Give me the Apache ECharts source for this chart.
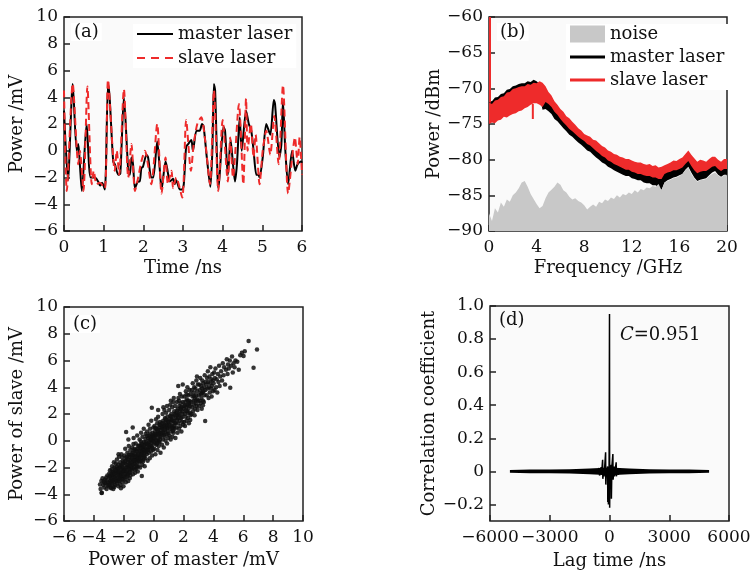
<!DOCTYPE html>
<html>
<head>
<meta charset="utf-8">
<title>master / slave laser chaos</title>
<script src="https://cdn.jsdelivr.net/npm/echarts@6.0.0/dist/echarts.min.js"></script>
<style>
  html, body { margin: 0; padding: 0; background: #fff; }
  #main { width: 754px; height: 576px; }
</style>
</head>
<body>
<div id="main"></div>
<script>
// (a) time traces, [time ns, power mV]
var masterTrace = [[0,3.0],[0.10,-2.2],[0.22,5.0],[0.32,0.0],[0.36,0.5],[0.40,-1.0],[0.45,-3.0],[0.57,2.0],[0.67,-2.0],[0.78,-2.0],[0.86,-2.3],[0.91,-2.6],[0.96,-2.4],[1.03,-2.9],[1.11,5.0],[1.15,4.0],[1.24,-0.8],[1.28,-1.0],[1.37,-1.8],[1.42,-1.7],[1.51,4.0],[1.62,-1.5],[1.66,-1.8],[1.70,-0.5],[1.74,-1.0],[1.79,-2.8],[1.87,-2.3],[1.91,-2.3],[1.95,-1.3],[1.99,-1.2],[2.08,-0.3],[2.12,-0.5],[2.20,-2.0],[2.25,-2.0],[2.35,0.7],[2.41,-1.2],[2.46,-2.9],[2.56,-0.8],[2.60,-1.3],[2.67,-2.3],[2.75,-2.1],[2.79,-2.5],[2.83,-2.2],[2.92,-2.9],[2.98,-2.9],[3.02,-2.5],[3.08,0.3],[3.13,0.5],[3.21,0.8],[3.25,0.0],[3.34,1.5],[3.42,1.5],[3.48,2.0],[3.52,1.8],[3.60,-0.5],[3.69,-2.7],[3.74,0.0],[3.78,5.0],[3.81,4.5],[3.89,-2.8],[3.92,-2.0],[4.02,1.8],[4.06,1.5],[4.13,-1.8],[4.20,0.8],[4.26,-1.0],[4.31,-2.3],[4.36,-1.0],[4.43,2.5],[4.48,0.0],[4.59,3.0],[4.66,2.0],[4.72,1.5],[4.78,0.0],[4.85,-1.8],[4.90,-1.8],[4.93,-2.0],[5.01,-0.5],[5.10,2.0],[5.20,1.2],[5.29,3.8],[5.32,3.5],[5.43,-0.5],[5.48,0.5],[5.52,3.7],[5.58,0.0],[5.65,-2.5],[5.75,0.0],[5.83,-1.5],[5.89,-1.0],[5.98,-0.8],[6.0,-0.9]];
var slaveTrace = [[0,4.5],[0.07,-3.0],[0.22,5.0],[0.36,-1.0],[0.40,0.0],[0.49,-3.0],[0.59,4.8],[0.70,-2.5],[0.75,-1.5],[0.82,-2.5],[0.90,-2.4],[1.03,-2.8],[1.11,5.3],[1.28,-1.5],[1.33,0.0],[1.39,-1.8],[1.51,4.6],[1.62,-2.0],[1.70,0.5],[1.79,-3.0],[1.87,-2.0],[1.95,-0.8],[2.04,0.0],[2.20,-2.5],[2.35,2.0],[2.46,-3.2],[2.56,-0.5],[2.62,-2.5],[2.71,-1.5],[2.75,-2.8],[2.83,-2.0],[2.98,-3.5],[3.08,2.3],[3.20,-1.5],[3.27,0.5],[3.36,2.0],[3.46,2.5],[3.55,1.0],[3.68,-2.5],[3.78,4.5],[3.89,-3.0],[4.00,2.3],[4.13,-2.3],[4.19,1.0],[4.26,-2.0],[4.41,3.5],[4.52,-2.5],[4.59,3.9],[4.63,0.0],[4.71,2.0],[4.78,-0.5],[4.83,1.2],[4.93,-2.5],[5.01,0.0],[5.10,1.5],[5.20,-0.3],[5.30,2.6],[5.41,-1.0],[5.52,4.9],[5.65,-3.2],[5.77,0.0],[5.82,1.0],[5.89,-1.0],[5.94,1.0],[6.0,-1.8]];

// (b) spectra, dBm sampled every 0.25 GHz
var freqGHz = [0,0.25,0.5,0.75,1,1.25,1.5,1.75,2,2.25,2.5,2.75,3,3.25,3.5,3.75,4,4.25,4.5,4.75,5,5.25,5.5,5.75,6,6.25,6.5,6.75,7,7.25,7.5,7.75,8,8.25,8.5,8.75,9,9.25,9.5,9.75,10,10.25,10.5,10.75,11,11.25,11.5,11.75,12,12.25,12.5,12.75,13,13.25,13.5,13.75,14,14.25,14.5,14.75,15,15.25,15.5,15.75,16,16.25,16.5,16.75,17,17.25,17.5,17.75,18,18.25,18.5,18.75,19,19.25,19.5,19.75,20];
var noiseLevel = [-87.5,-88.6,-86.8,-87.4,-86.0,-86.6,-85.6,-85.9,-85.0,-84.6,-84.0,-83.2,-83.0,-83.8,-84.8,-85.5,-86.2,-86.8,-86.5,-85.4,-84.6,-84.2,-83.8,-83.2,-83.5,-84.3,-84.6,-85.2,-85.6,-85.4,-85.8,-86.0,-86.4,-87.0,-86.6,-86.3,-86.6,-85.9,-86.1,-85.6,-85.8,-85.3,-85.5,-85.0,-85.3,-84.8,-85.0,-84.6,-84.8,-84.3,-84.6,-84.1,-84.3,-83.9,-84.0,-83.7,-83.8,-83.4,-84.3,-83.2,-83.0,-82.8,-82.6,-82.5,-82.3,-82.0,-81.5,-81.1,-82.0,-82.6,-83.1,-82.9,-82.8,-82.7,-82.3,-82.0,-81.8,-82.2,-82.5,-82.2,-82.2];
var masterUpper = [-71.7,-71.8,-71.3,-71.2,-70.8,-70.7,-70.2,-70.1,-69.7,-69.6,-69.4,-69.3,-69.3,-69.0,-69.1,-68.8,-69.0,-69.4,-70.0,-71.4,-71.7,-72.1,-72.8,-73.2,-73.8,-74.3,-74.7,-75.2,-75.5,-75.9,-76.3,-76.6,-76.9,-77.3,-77.5,-77.9,-78.3,-78.6,-79.0,-79.2,-79.6,-79.8,-80.1,-80.3,-80.5,-80.7,-80.9,-80.9,-81.2,-81.3,-81.5,-81.5,-81.7,-81.8,-81.8,-82.0,-82.0,-82.2,-82.2,-81.5,-81.3,-81.2,-81.0,-81.0,-80.8,-80.6,-80.1,-79.7,-80.4,-81.0,-81.4,-81.2,-81.1,-81.1,-80.8,-80.5,-80.4,-80.8,-81.1,-80.8,-80.8];
var masterLower = [-73.5,-73.6,-73.2,-73.0,-72.7,-72.5,-72.2,-72.0,-71.8,-71.6,-71.5,-71.3,-71.2,-71.0,-71.0,-70.8,-70.9,-71.2,-73.0,-72.9,-73.2,-73.6,-74.3,-74.6,-75.1,-75.6,-76.0,-76.5,-76.8,-77.2,-77.6,-77.9,-78.3,-78.7,-78.9,-79.3,-79.7,-80.0,-80.4,-80.6,-81.0,-81.2,-81.5,-81.7,-81.9,-82.1,-82.3,-82.3,-82.6,-82.7,-82.9,-82.9,-83.2,-83.3,-83.3,-83.6,-83.6,-83.9,-84.2,-83.2,-82.9,-82.7,-82.5,-82.4,-82.2,-82.0,-81.4,-81.0,-81.8,-82.5,-83.0,-82.8,-82.7,-82.6,-82.2,-81.8,-81.6,-82.1,-82.4,-82.1,-82.1];
var slaveUpper = [-72.0,-72.2,-71.7,-71.6,-71.2,-71.1,-70.6,-70.5,-70.1,-70.0,-69.8,-69.7,-69.7,-69.4,-69.5,-69.2,-69.3,-69.0,-69.2,-69.7,-70.5,-71.0,-71.8,-72.3,-72.9,-73.3,-73.9,-74.2,-74.7,-75.1,-75.6,-75.9,-76.4,-76.6,-76.8,-77.2,-77.3,-77.7,-78.1,-78.3,-78.7,-78.9,-79.2,-79.3,-79.6,-79.7,-79.9,-79.9,-80.1,-80.3,-80.4,-80.4,-80.6,-80.7,-80.6,-80.9,-80.8,-81.1,-81.0,-80.8,-80.6,-80.4,-80.1,-80.2,-79.9,-79.7,-79.2,-78.7,-79.3,-79.8,-80.3,-80.0,-80.1,-80.3,-79.9,-79.6,-79.6,-80.0,-80.3,-79.9,-79.9];
var slaveLower = [-75.0,-74.8,-74.9,-74.5,-74.4,-74.0,-74.1,-73.8,-73.6,-73.5,-73.2,-73.1,-72.8,-72.6,-72.3,-72.1,-72.1,-72.3,-72.6,-71.9,-72.2,-72.6,-73.3,-73.7,-74.3,-74.8,-75.2,-75.7,-76.0,-76.4,-76.8,-77.1,-77.4,-77.8,-78.0,-78.4,-78.8,-79.1,-79.5,-79.7,-80.1,-80.3,-80.6,-80.8,-81.0,-81.2,-81.4,-81.4,-81.7,-81.8,-82.0,-82.0,-82.2,-82.3,-82.3,-82.5,-82.5,-82.7,-82.7,-82.0,-81.8,-81.7,-81.5,-81.5,-81.3,-81.1,-80.6,-80.2,-80.9,-81.5,-81.9,-81.7,-81.6,-81.6,-81.3,-81.0,-80.9,-81.3,-81.6,-81.3,-81.3];
// narrow spikes of the slave trace: [GHz, top dBm, bottom dBm]
var slaveSpikes = [[0,-60,-72],[3.6,-72.2,-74.3]];

// (c) slave vs master, [master mV, slave mV]
var scatterPts = [
[-3.55,-3.6],[-3.48,-3.9],[-3.5,-3.0],[-3.42,-2.8],[-3.38,-3.3],[-3.3,-3.5],[-3.25,-2.9],[-3.2,-3.2],[-3.15,-3.6],[-3.1,-2.6],[-3.05,-3.1],[-3.02,-3.4],[-3.35,-3.05],[-3.12,-2.95],[-3.59,-3.27],[-3.47,-3.89],
[-2.98,-2.7],[-2.95,-3.3],[-2.92,-2.2],[-2.9,-3.0],[-2.88,-3.5],[-2.85,-2.5],[-2.82,-2.9],[-2.8,-3.2],[-2.78,-1.9],[-2.75,-2.6],[-2.72,-3.4],[-2.7,-2.3],[-2.68,-2.95],[-2.65,-3.1],[-2.62,-2.0],[-2.6,-2.7],[-2.58,-3.3],[-2.55,-2.4],[-2.53,-1.7],[-2.52,-3.0],[-2.9,-2.65],[-2.76,-2.35],[-2.66,-1.6],[-2.84,-3.55],[-2.57,-2.15],[-2.7,-3.6],
[-2.48,-2.6],[-2.46,-1.4],[-2.45,-3.2],[-2.42,-2.1],[-2.4,-2.9],[-2.38,-1.8],[-2.36,-3.4],[-2.34,-2.4],[-2.32,-1.2],[-2.3,-2.7],[-2.28,-3.0],[-2.26,-2.0],[-2.24,-1.6],[-2.22,-3.3],[-2.2,-2.5],[-2.18,-2.2],[-2.16,-1.0],[-2.14,-2.8],[-2.12,-1.9],[-2.1,-3.1],[-2.08,-2.35],[-2.06,-1.5],[-2.04,-2.65],[-2.02,-3.4],[-2.44,-2.3],[-2.35,-1.0],[-2.27,-2.55],[-2.19,-3.55],[-2.11,-1.25],[-2.05,-2.05],
[-1.98,-2.3],[-1.96,-1.1],[-1.94,-2.9],[-1.92,-1.7],[-1.9,-0.6],[-1.88,-2.5],[-1.86,-3.1],[-1.84,0.65],[-1.82,-2.0],[-1.8,-1.4],[-1.78,-2.7],[-1.76,-0.9],[-1.74,-2.2],[-1.72,-1.6],[-1.7,-3.0],[-1.68,-1.9],[-1.66,-0.4],[-1.64,-2.4],[-1.62,-1.2],[-1.6,-2.8],[-1.58,-1.75],[-1.56,-0.7],[-1.54,-2.1],[-1.52,-1.45],[-1.95,-2.05],[-1.85,-1.25],[-1.75,-2.45],[-1.65,-1.05],[-1.55,-2.6],[-1.69,0.1],
[-1.48,-1.3],[-1.46,-2.2],[-1.44,-0.5],[-1.42,-1.8],[-1.4,-0.9],[-1.38,-2.5],[-1.36,-1.5],[-1.34,0.2],[-1.32,-1.1],[-1.3,-2.0],[-1.28,-0.6],[-1.26,-1.7],[-1.24,-2.4],[-1.22,-1.0],[-1.2,-0.2],[-1.18,-1.4],[-1.16,-2.1],[-1.14,-0.8],[-1.12,-1.6],[-1.1,0.4],[-1.08,-1.2],[-1.06,-2.3],[-1.04,-0.4],[-1.02,-1.9],[-1.45,-1.05],[-1.35,-0.25],[-1.25,-1.25],[-1.15,-1.85],[-1.05,-0.95],[-1.4,1.0],
[-0.98,-0.7],[-0.96,-1.6],[-0.94,0.1],[-0.92,-1.2],[-0.9,-2.0],[-0.88,-0.4],[-0.86,-1.0],[-0.84,0.6],[-0.82,-1.5],[-0.8,-0.2],[-0.79,-2.64],[-0.78,-0.8],[-0.76,-1.8],[-0.74,0.3],[-0.72,-1.1],[-0.7,-0.5],[-0.68,-1.4],[-0.66,0.9],[-0.64,-0.1],[-0.62,-0.9],[-0.6,-1.9],[-0.58,-0.3],[-0.56,-1.3],[-0.54,0.5],[-0.52,-0.6],[-0.95,-1.35],[-0.85,-0.05],[-0.75,-0.55],[-0.65,-1.25],[-0.55,0.15],
[-0.48,-0.2],[-0.46,-1.0],[-0.44,0.7],[-0.42,-0.6],[-0.4,-1.5],[-0.38,0.2],[-0.36,-0.3],[-0.34,1.2],[-0.32,-0.9],[-0.3,0.4],[-0.28,-0.1],[-0.26,-1.3],[-0.24,0.9],[-0.22,-0.5],[-0.2,0.1],[-0.18,-0.8],[-0.16,1.5],[-0.14,0.3],[-0.12,2.47],[-0.12,-0.4],[-0.1,-1.1],[-0.08,0.6],[-0.06,0.0],[-0.04,-0.7],[-0.02,1.0],[-0.45,0.35],[-0.35,-0.65],[-0.25,0.55],[-0.15,-0.15],[-0.05,0.35],
[0.02,0.2],[0.04,-0.6],[0.06,1.1],[0.08,-0.2],[0.1,0.7],[0.12,-1.0],[0.14,0.4],[0.16,1.6],[0.18,-0.3],[0.2,0.9],[0.22,0.0],[0.24,1.3],[0.26,-0.7],[0.28,0.5],[0.3,1.8],[0.32,0.2],[0.34,-0.4],[0.36,1.0],[0.38,0.6],[0.4,-0.1],[0.42,1.4],[0.44,0.3],[0.46,-0.9],[0.48,0.8],[0.15,0.05],[0.25,0.75],[0.35,-0.05],[0.45,1.15],[0.05,0.5],[0.3,2.3],
[0.52,0.4],[0.54,1.3],[0.56,-0.3],[0.58,0.9],[0.6,2.0],[0.62,0.1],[0.64,1.5],[0.66,0.6],[0.68,-0.5],[0.7,1.1],[0.72,2.3],[0.74,0.3],[0.76,1.7],[0.78,0.8],[0.8,0.0],[0.82,1.3],[0.84,2.1],[0.86,0.5],[0.88,1.0],[0.9,-0.2],[0.92,1.8],[0.94,0.7],[0.96,1.4],[0.98,0.2],[0.6,1.05],[0.7,0.45],[0.8,1.6],[0.9,2.6],[0.65,2.5],[0.95,0.95],
[1.02,1.2],[1.04,2.3],[1.06,0.4],[1.08,1.6],[1.1,0.9],[1.12,2.7],[1.14,0.1],[1.16,1.4],[1.18,2.0],[1.2,0.7],[1.22,1.1],[1.24,2.5],[1.26,0.3],[1.28,1.8],[1.3,1.0],[1.32,2.9],[1.34,0.6],[1.36,1.5],[1.38,2.2],[1.4,0.9],[1.42,1.3],[1.44,2.6],[1.46,0.2],[1.48,1.7],[1.1,1.85],[1.2,1.55],[1.3,0.75],[1.4,2.0],[1.15,3.0],[1.35,3.2],
[1.52,2.1],[1.54,1.0],[1.56,2.9],[1.58,1.6],[1.6,0.6],[1.62,2.4],[1.64,1.3],[1.66,3.2],[1.68,1.9],[1.7,0.9],[1.72,2.6],[1.74,1.5],[1.76,3.5],[1.78,2.2],[1.8,1.1],[1.82,2.8],[1.84,1.7],[1.86,0.7],[1.88,2.5],[1.9,3.3],[1.92,1.4],[1.94,2.0],[1.96,2.9],[1.98,1.2],[1.6,1.95],[1.7,3.0],[1.8,2.35],[1.9,1.75],[1.65,4.1],[1.95,4.2],
[2.02,2.4],[2.04,1.4],[2.06,3.3],[2.08,2.0],[2.1,1.1],[2.12,2.9],[2.14,1.8],[2.16,3.7],[2.18,2.5],[2.2,1.5],[2.22,3.1],[2.24,2.2],[2.26,4.0],[2.28,2.7],[2.3,1.7],[2.32,3.4],[2.34,2.4],[2.36,1.3],[2.38,3.0],[2.4,3.8],[2.42,2.1],[2.44,2.6],[2.46,3.5],[2.48,1.9],[2.1,2.65],[2.2,3.45],[2.3,2.05],[2.4,2.85],[2.45,1.55],
[2.52,2.9],[2.54,2.0],[2.56,3.8],[2.58,2.5],[2.6,3.3],[2.62,4.3],[2.64,2.2],[2.66,3.0],[2.68,3.6],[2.7,2.7],[2.72,4.0],[2.74,1.9],[2.76,3.2],[2.78,2.4],[2.8,3.9],[2.82,2.8],[2.84,3.4],[2.86,4.5],[2.88,2.6],[2.9,3.1],[2.92,3.7],[2.94,2.3],[2.96,4.2],[2.98,3.0],[2.7,3.35],[2.8,3.0],[2.9,4.8],
[3.02,3.4],[3.04,2.6],[3.06,4.2],[3.08,3.0],[3.1,3.8],[3.12,4.7],[3.14,2.8],[3.16,3.5],[3.18,4.1],[3.2,3.2],[3.22,2.4],[3.24,3.9],[3.26,4.5],[3.28,3.6],[3.3,3.0],[3.32,4.3],[3.34,3.7],[3.36,2.9],[3.38,4.0],[3.4,3.4],[3.42,4.9],[3.45,1.47],[3.46,3.8],[3.48,4.4],[3.2,3.55],[3.3,2.65],
[3.52,4.2],[3.55,3.4],[3.58,4.7],[3.6,3.9],[3.63,5.2],[3.66,4.4],[3.68,3.2],[3.7,4.0],[3.73,4.8],[3.76,3.6],[3.78,4.3],[3.8,5.5],[3.83,3.9],[3.86,4.6],[3.88,3.3],[3.9,4.1],[3.93,5.0],[3.96,4.5],[3.98,3.7],
[4.02,4.3],[4.05,5.1],[4.08,3.8],[4.1,4.7],[4.14,5.4],[4.18,4.0],[4.22,4.6],[4.26,3.6],[4.3,5.0],[4.34,4.4],[4.38,5.6],[4.42,4.1],[4.46,4.8],
[4.52,5.2],[4.58,4.5],[4.63,5.8],[4.68,4.9],[4.72,5.5],[4.78,4.2],[4.84,5.3],[4.9,6.1],[4.95,5.0],[4.98,5.7],
[5.03,5.4],[5.1,6.0],[5.13,3.96],[5.18,5.6],[5.25,6.3],[5.3,5.1],[5.35,5.8],[5.42,5.5],[5.48,6.0],
[5.6,5.9],[5.8,6.4],[5.91,6.58],[6.02,6.33],[6.1,6.7],[6.36,7.46],[6.69,5.46],[6.92,6.83],[5.7,5.3],
[-3.28,-3.15],[-3.18,-2.75],[-3.08,-3.3],[-2.97,-2.45],[-2.93,-3.15],[-2.87,-2.8],[-2.81,-2.15],[-2.77,-3.05],[-2.73,-2.5],[-2.67,-2.75],[-2.63,-3.45],[-2.59,-2.45],[-2.56,-2.85],[-2.51,-2.25],[-2.49,-1.95],[-2.43,-2.75],[-2.39,-2.45],[-2.37,-3.05],[-2.33,-2.05],[-2.29,-2.3],[-2.25,-2.85],[-2.21,-1.85],[-2.17,-2.65],[-2.13,-2.35],[-2.09,-1.75],[-2.07,-2.9],[-2.03,-2.2],[-2.01,-1.6],[-1.97,-2.6],[-1.93,-2.25],[-1.89,-1.5],[-1.87,-2.75],[-1.83,-1.8],[-1.79,-2.3],[-1.77,-1.2],[-1.73,-1.95],[-1.71,-2.55],[-1.67,-1.4],[-1.63,-2.1],[-1.61,-1.65],[-1.57,-2.35],[-1.53,-1.0],[-1.51,-1.9],[-1.47,-1.6],[-1.43,-2.05],[-1.41,-1.2],[-1.37,-1.75],[-1.33,-0.75],[-1.31,-1.45],[-1.27,-2.15],[-1.23,-1.5],[-1.21,-0.7],[-1.17,-1.15],[-1.13,-1.95],[-1.09,-1.45],[-1.07,-0.6],[-1.03,-1.3],[-0.99,-1.0],[-0.97,-0.35],[-0.93,-1.5],[-0.89,-0.75],[-0.87,-1.3],[-0.83,-0.5],[-0.81,-1.05],[-0.77,-0.3],[-0.73,-0.85],[-0.71,-1.55],[-0.67,-0.7],[-0.63,-0.4],[-0.61,-1.1],[-0.57,-0.75],[-0.53,-0.1],[-0.49,-0.85],[-0.43,-0.3],[-0.39,-0.7],[-0.33,0.0],[-0.29,-0.45],[-0.23,0.25],[-0.19,-0.35],[-0.13,0.05],[-0.09,-0.55],[-0.03,0.4],[0.01,-0.1],[0.07,0.25],[0.11,0.95],[0.17,0.45],[0.23,-0.2],[0.29,0.85],[0.33,0.5],[0.39,1.2],[0.43,0.1],[0.49,0.55],[0.55,1.0],[0.61,0.6],[0.67,1.3],[0.73,0.85],[0.79,1.15],[0.85,1.55],[0.91,1.1],[0.97,0.55],[1.03,1.45],[1.09,1.15],[1.17,1.8],[1.23,0.95],[1.29,1.5],[1.37,1.15],[1.43,1.9],[1.49,1.35],[1.57,2.25],[1.63,1.7],[1.73,2.0],[1.83,2.5],[1.93,2.2],[2.05,2.6],[2.15,2.25],[2.27,3.0],[2.37,2.7]
];

// (d) cross-correlation, lag ns
var corrLag = [-5000,-4000,-3000,-2000,-1000,-500,-300,300,500,1000,2000,3000,4000,5000];
var corrUpper = [0.008,0.011,0.012,0.013,0.017,0.02,0.022,0.022,0.02,0.017,0.013,0.012,0.011,0.008];
var corrLower = [-0.008,-0.011,-0.012,-0.013,-0.017,-0.02,-0.022,-0.022,-0.02,-0.017,-0.013,-0.012,-0.011,-0.008];
var corrSpikes = [[-600,0],[-520,0.02],[-500,-0.025],[-420,0.025],[-400,-0.02],[-345,0.07],[-335,-0.045],[-280,0.02],[-270,-0.03],[-195,0.115],[-185,-0.08],[-150,0.02],[-140,-0.03],[-95,0.03],[-85,-0.185],[-70,0.02],[-55,-0.2],[-20,0.03],[0,0.951],[8,-0.22],[25,0.03],[45,-0.04],[85,0.04],[95,-0.165],[120,0.03],[170,0.105],[180,-0.05],[240,0.03],[250,-0.03],[335,0.055],[345,-0.03],[420,0.02],[440,-0.02],[520,0.015],[600,0]];

var font = 'DejaVu Serif';
var ink = '#111';
var red = '#ee2b2b';
var fs = 18;
var ls = 17;

function minus(v) { return String(v).replace('-', '\u2212'); }

function axis(gi, min, max, interval, name, gap, isY) {
  return {
    type: 'value', gridIndex: gi, min: min, max: max, interval: interval,
    name: name, nameLocation: 'middle', nameGap: gap,
    nameTextStyle: { fontFamily: font, fontSize: fs, color: ink },
    axisLine: { show: false, onZero: false },
    axisTick: { show: true, inside: true, length: 6, lineStyle: { color: '#222', width: 1.5 } },
    axisLabel: { fontFamily: font, fontSize: ls, color: ink, margin: isY ? 6 : 8, formatter: minus, hideOverlap: false },
    splitLine: { show: false }
  };
}

// filled band between two edges, drawn through the axes
function band(name, xs, up, lo, color, gi) {
  return {
    type: 'custom', name: name, xAxisIndex: gi, yAxisIndex: gi, clip: true,
    itemStyle: { color: color },
    data: [[xs[0], up[0]]],
    renderItem: function (params, api) {
      var pts = [];
      for (var i = 0; i < xs.length; i++) pts.push(api.coord([xs[i], up[i]]));
      for (var j = xs.length - 1; j >= 0; j--) pts.push(api.coord([xs[j], lo[j]]));
      return { type: 'polygon', shape: { points: pts }, style: { fill: color } };
    }
  };
}

function zip(xs, ys) { return xs.map(function (x, i) { return [x, ys[i]]; }); }

// -0.3 .. 1.0 with ticks on the even tenths: let the axis pick 0.2 itself
var corrYAxis = axis(3, -0.3, 1.0, null, 'Correlation coefficient', 50, true);
delete corrYAxis.interval;
corrYAxis.splitNumber = 6;
corrYAxis.axisLabel.showMinLabel = false;
corrYAxis.axisLabel.formatter = function (v) {
  if (Math.abs(v + 0.3) < 1e-6) return '';
  return Math.abs(v) < 1e-9 ? '0' : minus(v.toFixed(1));
};

var gridStyle = { show: true, borderColor: '#222', borderWidth: 1.5, backgroundColor: '#fafafa', outerBoundsMode: 'none' };
var solidIcon = 'path://M0,0H36V2H0Z';
var dashIcon = 'path://M0,0H8V2H0Z M14,0H22V2H14Z M28,0H36V2H28Z';
var lineIcon = 'path://M0,0H35V3H0Z';
var txt = { fontFamily: font, fontSize: fs, color: ink, fontWeight: 'normal' };
var legendText = { fontFamily: font, fontSize: fs, color: ink, lineHeight: 20 };

var chart = echarts.init(document.getElementById('main'), null, { renderer: 'canvas' });
chart.setOption({
  animation: false,
  backgroundColor: '#fff',
  grid: [
    Object.assign({ left: 64, top: 17, width: 238, height: 214 }, gridStyle),
    Object.assign({ left: 489, top: 17, width: 238, height: 214 }, gridStyle),
    Object.assign({ left: 64, top: 307, width: 239, height: 214 }, gridStyle),
    Object.assign({ left: 490, top: 306, width: 239, height: 215 }, gridStyle)
  ],
  xAxis: [
    axis(0, 0, 6, 1, 'Time /ns', 28, false),
    axis(1, 0, 20, 4, 'Frequency /GHz', 28, false),
    axis(2, -6, 10, 2, 'Power of master /mV', 30, false),
    axis(3, -6000, 6000, 3000, 'Lag time /ns', 31, false)
  ],
  yAxis: [
    axis(0, -6, 10, 2, 'Power /mV', 38, true),
    axis(1, -90, -60, 5, 'Power /dBm', 44, true),
    axis(2, -6, 10, 2, 'Power of slave /mV', 38, true),
    corrYAxis
  ],
  title: [
    { text: '(a)', left: 71, top: 23, padding: [0, 3], backgroundColor: '#fff', textStyle: txt },
    { text: '(b)', left: 497, top: 23, padding: [0, 3], backgroundColor: '#fff', textStyle: txt },
    { text: '(c)', left: 70, top: 315, padding: [0, 3], backgroundColor: '#fff', textStyle: txt },
    { text: '(d)', left: 496, top: 311, padding: [0, 3], textStyle: txt },
    { text: '{i|C}=0.951', left: 620, top: 326, padding: 0,
      textStyle: Object.assign({ rich: { i: { fontFamily: font, fontSize: fs, color: ink, fontStyle: 'italic' } } }, txt) }
  ],
  legend: [
    { orient: 'vertical', left: 133, top: 24, padding: [0, 4], backgroundColor: '#fff',
      itemWidth: 36, itemHeight: 14, itemGap: 4, selectedMode: false, textStyle: legendText,
      data: [{ name: 'master laser', icon: solidIcon }, { name: 'slave laser', icon: dashIcon }] },
    { orient: 'vertical', left: 566, top: 24, padding: [0, 4], backgroundColor: '#fff',
      itemWidth: 35, itemHeight: 17, itemGap: 3, selectedMode: false, textStyle: legendText,
      data: [{ name: 'noise', icon: 'rect' }, { name: 'master laser', icon: lineIcon }, { name: 'slave laser', icon: lineIcon }] }
  ],
  series: [
    { type: 'line', name: 'master laser', xAxisIndex: 0, yAxisIndex: 0, data: masterTrace,
      symbol: 'none', smooth: 0.25, itemStyle: { color: '#000' }, lineStyle: { color: '#000', width: 2 } },
    { type: 'line', name: 'slave laser', xAxisIndex: 0, yAxisIndex: 0, data: slaveTrace,
      symbol: 'none', smooth: 0.25, itemStyle: { color: red }, lineStyle: { color: red, width: 2, type: [7, 4] } },

    { type: 'line', name: 'noise', xAxisIndex: 1, yAxisIndex: 1, data: zip(freqGHz, noiseLevel),
      symbol: 'none', itemStyle: { color: '#c8c8c8' }, lineStyle: { color: '#c8c8c8', width: 0 },
      areaStyle: { color: '#c8c8c8', opacity: 1, origin: 'start' } },
    band('master laser', freqGHz, masterUpper, masterLower, '#000', 1),
    band('slave laser', freqGHz, slaveUpper, slaveLower, red, 1),
    { type: 'custom', name: 'slave laser', xAxisIndex: 1, yAxisIndex: 1, data: slaveSpikes,
      renderItem: function (params, api) {
        var a = api.coord([api.value(0), api.value(1)]);
        var b = api.coord([api.value(0), api.value(2)]);
        return { type: 'line', shape: { x1: a[0] + 1, y1: a[1], x2: b[0] + 1, y2: b[1] }, style: { stroke: red, lineWidth: 2 } };
      } },

    { type: 'scatter', name: 'pairs', xAxisIndex: 2, yAxisIndex: 2, data: scatterPts,
      symbol: 'circle', symbolSize: 4.5, itemStyle: { color: '#111', opacity: 0.85 } },

    band('envelope', corrLag, corrUpper, corrLower, '#000', 3),
    { type: 'line', name: 'correlation', xAxisIndex: 3, yAxisIndex: 3, data: corrSpikes,
      symbol: 'none', lineStyle: { color: '#000', width: 1.5 } }
  ]
});
</script>
</body>
</html>
